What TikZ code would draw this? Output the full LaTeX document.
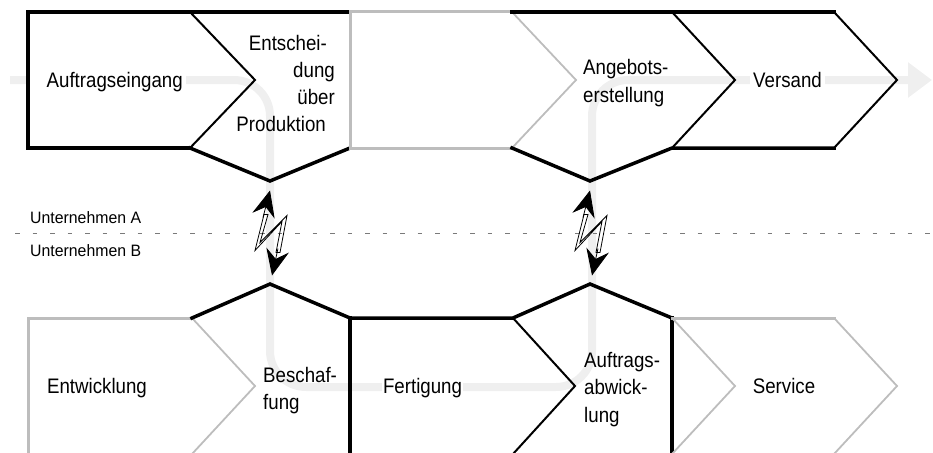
\documentclass[tikz,border=0pt]{standalone}
\usepackage{fontspec}
\setmainfont{Liberation Sans}[FakeStretch=0.89]
\newfontfamily\smallfont{Liberation Sans}[FakeStretch=0.96]
\usetikzlibrary{arrows.meta,calc}
\definecolor{shapegray}{HTML}{BDBDBD}
\definecolor{flowgray}{HTML}{EFEFEF}
\definecolor{dashgray}{HTML}{7A7A7A}
\begin{document}
\begin{tikzpicture}[x=1pt,y=-1pt,
  thickblack/.style={draw=black,line width=3.5pt,line join=miter,line cap=rect},
  thinblack/.style={draw=black,line width=2pt,line join=miter},
  thickgray/.style={draw=shapegray,line width=3pt,line join=miter,line cap=rect},
  thingray/.style={draw=shapegray,line width=1.8pt,line join=miter},
  flow/.style={draw=flowgray,line width=8pt,-{Triangle[length=24pt,width=34pt]}},
  lbl/.style={font=\fontsize{21}{27}\selectfont,inner sep=0pt,text=black},
  lblfill/.style={lbl,fill=white,inner sep=3pt},
  sidelbl/.style={font=\smallfont\fontsize{16.5}{20}\selectfont,inner sep=0pt},
  dashline/.style={draw=dashgray,line width=1pt,dash pattern=on 4.5pt off 13pt},
  boltline/.style={draw=black,line width=0.8pt,line join=miter},
  bolttip/.style={draw=black,line width=0.8pt,-{Stealth[length=26pt,width=23pt,inset=9pt]}},
  bolt/.pic={
    \draw[boltline] (-6,-18) -- (-15,18) -- (12,-11) -- (6,20) -- (10,20)
      -- (17,-17) -- (-10,10) -- (-2,-18) -- cycle;
    \draw[bolttip] (-7,-15) -- (0,-42);
    \draw[bolttip] (8,16) -- (2,43);
  }
]
\useasboundingbox (0,0) rectangle (933,452);
\clip (0,0) rectangle (933,452);

% ---- coordinates: top row
\coordinate (A1) at (28,12);  \coordinate (A2) at (190,12);
\coordinate (Atip) at (255,80); \coordinate (A3) at (190,148);
\coordinate (A4) at (28,148);
\coordinate (E2) at (350,12); \coordinate (E3) at (350,148);
\coordinate (Ev) at (270,181);
\coordinate (G2) at (512,12); \coordinate (Gtip) at (576,80);
\coordinate (G3) at (512,148);
\coordinate (B2) at (672,12); \coordinate (Btip) at (735,80);
\coordinate (B3) at (672,148); \coordinate (Bv) at (590,181);
\coordinate (V2) at (834,12); \coordinate (Vtip) at (897,80);
\coordinate (V3) at (834,148);
% ---- coordinates: bottom row
\coordinate (W1) at (28,454); \coordinate (W2) at (28,318);
\coordinate (W3) at (192,318); \coordinate (Wtip) at (255,386);
\coordinate (W4) at (192,454);
\coordinate (Sv) at (270,284);
\coordinate (F1) at (350,318); \coordinate (F0) at (350,454);
\coordinate (F2) at (513,318); \coordinate (Ftip) at (575,386);
\coordinate (F3) at (513,454);
\coordinate (Rv) at (590,284);
\coordinate (R1) at (672,318); \coordinate (R0) at (672,454);
\coordinate (Sn) at (735,386);
\coordinate (S2) at (834,318); \coordinate (Stip) at (897,386);
\coordinate (S3) at (834,454);
% ---- flow
\coordinate (fs) at (10,80); \coordinate (fe) at (932,80);
\coordinate (fc1) at (270,80); \coordinate (fc2) at (270,387);
\coordinate (fc3) at (592,387); \coordinate (fc4) at (592,80);

\draw[flow,rounded corners=36pt] (fs) -- (fc1) -- (fc2) -- (fc3) -- (fc4) -- (fe);

% ---- labels
\node[lblfill,anchor=base east] (auf) at (186,87.3) {\hspace*{16pt}Auftragseingang};
\node[lbl,align=right,anchor=north east] (ent) at (335,35)
  {Entschei-\hspace*{8pt}\\dung\\über\\Produktion\hspace*{9pt}};
\node[lbl,align=left,anchor=north west,font=\fontsize{21}{28.5}\selectfont] (ang) at (583,59)
  {Angebots-\\erstellung};
\node[lblfill,anchor=base] (ver) at (787.5,87.3) {Versand};
\node[lbl,anchor=base] (ew) at (97,393.3) {Entwicklung};
\node[lbl,align=left,anchor=north west,font=\fontsize{21}{27}\selectfont] (bes) at (263,366.7)
  {Beschaf-\\fung};
\node[lblfill,anchor=base,inner xsep=1.5pt] (fer) at (422.5,393.3) {Fertigung};
\node[lbl,align=left,anchor=north west,font=\fontsize{21}{27.5}\selectfont] (abw) at (584,351.7)
  {Auftrags-\\abwick-\\lung};
\node[lbl,anchor=base] (ser) at (784,393.3) {Service};
\node[sidelbl,anchor=base west] (ua) at (30,223.3) {Unternehmen A};
\node[sidelbl,anchor=base west] (ub) at (30,256.7) {Unternehmen B};

% ---- top row shapes
\draw[thickblack] (A3) -- (A4) -- (A1) -- (E2);
\draw[thinblack] (A2) -- (Atip) -- (A3);
\draw[thickblack] (A3) -- (Ev) -- (E3);
\draw[thickgray] (G2) -- (E2) -- (E3) -- (G3);
\draw[thingray] (G2) -- (Gtip) -- (G3);
\draw[thickblack] (G2) -- (V2);
\draw[thickblack] (G3) -- (Bv) -- (B3) -- (V3);
\draw[thinblack] (B2) -- (Btip) -- (B3);
\draw[thinblack] (V2) -- (Vtip) -- (V3);

% ---- bottom row shapes
\draw[thickgray] (W1) -- (W2) -- (W3);
\draw[thingray] (W3) -- (Wtip) -- (W4);
\draw[thickblack] (W3) -- (Sv) -- (F1) -- (F2) -- (Rv) -- (R1);
\draw[thickblack] (F0) -- (F1);
\draw[thickblack] (R0) -- (R1);
\draw[thinblack] (F2) -- (Ftip) -- (F3);
\draw[thickgray] (R1) -- (S2);
\draw[thingray] (S2) -- (Stip) -- (S3);
\draw[thingray] (R1) -- (Sn) -- (R0);

% ---- company border
\coordinate (dl) at (15,233); \coordinate (dr) at (933,233);
\draw[dashline] (dl) -- (dr);

% ---- communication bolts
\pic at ($(Ev)!0.5!(Sv)$) {bolt};
\pic at ($(Bv)!0.5!(Rv)$) {bolt};
\end{tikzpicture}
\end{document}
